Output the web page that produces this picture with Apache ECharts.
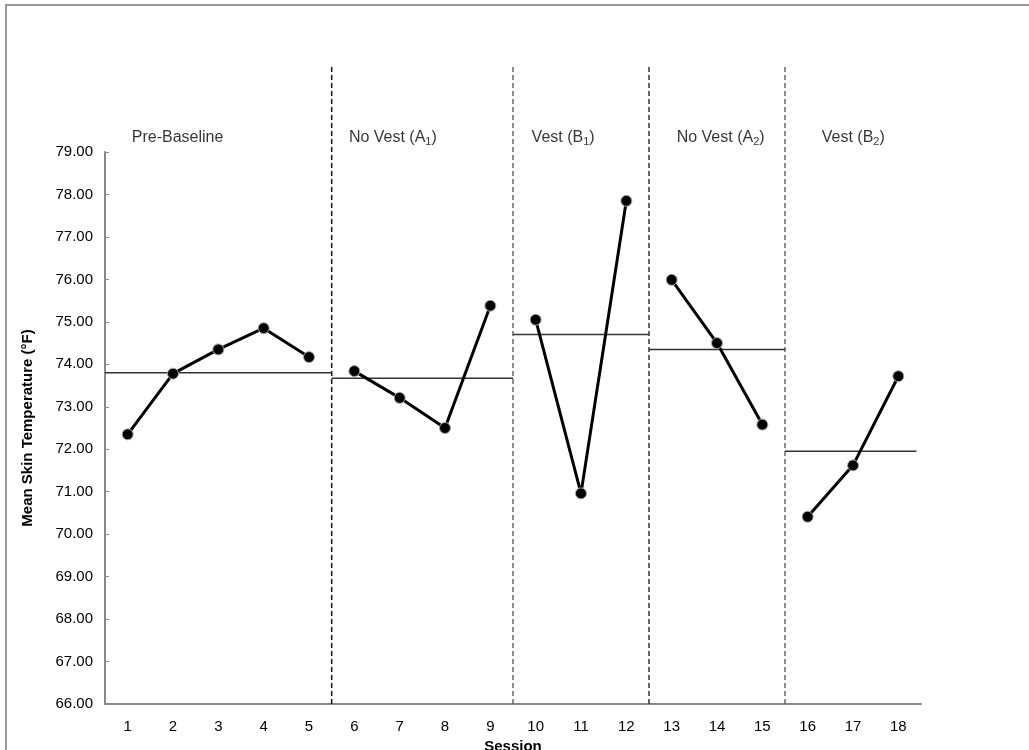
<!DOCTYPE html>
<html>
<head>
<meta charset="utf-8">
<style>html,body{margin:0;padding:0;background:#fff;}#c{width:1029px;height:750px;}</style>
<script src="https://cdn.jsdelivr.net/npm/echarts@6/dist/echarts.min.js"></script>
</head>
<body>
<div id="c"></div>
<script>
// ---- data ----
const sessions = ['1','2','3','4','5','6','7','8','9','10','11','12','13','14','15','16','17','18'];
const temps = [72.35, 73.78, 74.35, 74.85, 74.17, 73.84, 73.21, 72.50, 75.38, 75.05, 70.96, 77.85, 75.99, 74.50, 72.58, 70.41, 71.62, 73.72];
const phaseNames = ['Pre-Baseline', 'No Vest (A{s|1})', 'Vest (B{s|1})', 'No Vest (A{s|2})', 'Vest (B{s|2})'];
const phaseFirst = [1, 6, 10, 13, 16];
const phaseLast = [5, 9, 12, 15, 18];
const phaseMeans = [73.80, 73.67, 74.70, 74.35, 71.95];
const yTicks = [66, 79, 1]; // min, max, step

// ---- layout ----
const labelAnchorX = [1.09, 5.88, 9.91, 13.11, 16.31];
const labelAnchorY = 79.33;
const dashColors = ['#111', '#666', '#333', '#666'];
const FONT = 'Liberation Sans, Arial, sans-serif';

const series = [];
// phase boundaries (dashed)
for (let i = 0; i < phaseLast.length - 1; i++) {
  const b = phaseLast[i] + 0.5;
  series.push({
    type: 'line', xAxisIndex: 2, yAxisIndex: 1, symbol: 'none', silent: true,
    data: [[b, 66], [b, 81]],
    lineStyle: { color: dashColors[i], width: 1.5, type: [5, 3] }, z: 1
  });
}
// mean lines
for (let i = 0; i < phaseMeans.length; i++) {
  const s = i === 0 ? 0.5 : phaseFirst[i] - 0.5;
  const e = i === phaseMeans.length - 1 ? phaseLast[i] + 0.4 : phaseLast[i] + 0.5;
  series.push({
    type: 'line', xAxisIndex: 1, yAxisIndex: 0, symbol: 'none', silent: true,
    data: [[s, phaseMeans[i]], [e, phaseMeans[i]]],
    lineStyle: { color: '#333', width: 1.5 }, z: 2
  });
}
// data lines per phase
for (let i = 0; i < phaseFirst.length; i++) {
  const d = [];
  for (let k = phaseFirst[i]; k <= phaseLast[i]; k++) d.push([k, temps[k - 1]]);
  series.push({
    type: 'line', xAxisIndex: 1, yAxisIndex: 0, data: d,
    symbol: 'circle', symbolSize: 11,
    itemStyle: { color: '#000', borderColor: '#aaa', borderWidth: 1 },
    lineStyle: { color: '#000', width: 3 }, z: 5
  });
}
// phase labels
series.push({
  type: 'scatter', xAxisIndex: 2, yAxisIndex: 1, symbolSize: 0, silent: true,
  data: phaseNames.map((n, i) => ({ value: [labelAnchorX[i], labelAnchorY], name: n })),
  label: {
    show: true, position: 'right', distance: 0,
    formatter: p => '{n|' + p.name.replace(/\{s\|(\d)\}/g, '}{s|$1}{n|') + '}',
    rich: {
      n: { fontSize: 16, lineHeight: 20, verticalAlign: 'middle', color: '#000', fontFamily: FONT },
      s: { fontSize: 11, lineHeight: 10, verticalAlign: 'bottom', color: '#000', fontFamily: FONT }
    }
  }
});

const chart = echarts.init(document.getElementById('c'), null, { renderer: 'canvas' });
chart.setOption({
  animation: false,
  backgroundColor: '#fff',
  textStyle: { fontFamily: FONT },
  graphic: [{ type: 'rect', shape: { x: 6, y: 5, width: 1040, height: 760 }, style: { fill: 'none', stroke: '#999', lineWidth: 2 }, silent: true }],
  grid: [
    { left: 105, right: 108, top: 152, bottom: 46, containLabel: false, outerBoundsMode: 'none' },
    { left: 105, right: 108, top: 67, bottom: 46, containLabel: false, outerBoundsMode: 'none' }
  ],
  xAxis: [
    {
      type: 'category', gridIndex: 0, data: sessions, boundaryGap: true,
      axisLine: { lineStyle: { color: '#888', width: 2 } },
      axisTick: { inside: true, length: 4, lineStyle: { color: '#888' } },
      axisLabel: { fontSize: 15, color: '#000', margin: 15, fontFamily: FONT },
      name: 'Session', nameLocation: 'middle', nameGap: 29,
      nameTextStyle: { fontSize: 15, fontWeight: 'bold', color: '#000', fontFamily: FONT }
    },
    { type: 'value', gridIndex: 0, min: 0.5, max: 18.5, show: false },
    { type: 'value', gridIndex: 1, min: 0.5, max: 18.5, show: false }
  ],
  yAxis: [
    {
      type: 'value', gridIndex: 0, min: yTicks[0], max: yTicks[1], interval: yTicks[2],
      axisLine: { show: true, lineStyle: { color: '#888', width: 2 } },
      axisTick: { show: true, inside: true, length: 4, lineStyle: { color: '#888' } },
      splitLine: { show: false },
      axisLabel: { fontSize: 15, color: '#000', margin: 12, fontFamily: FONT, formatter: v => v.toFixed(2) },
      name: 'Mean Skin Temperature (°F)', nameLocation: 'middle', nameGap: 70, nameRotate: 90,
      nameTextStyle: { fontSize: 15, fontWeight: 'bold', color: '#000', fontFamily: FONT }
    },
    { type: 'value', gridIndex: 1, min: 66, max: 81, show: false }
  ],
  series: series
});
</script>
</body>
</html>
